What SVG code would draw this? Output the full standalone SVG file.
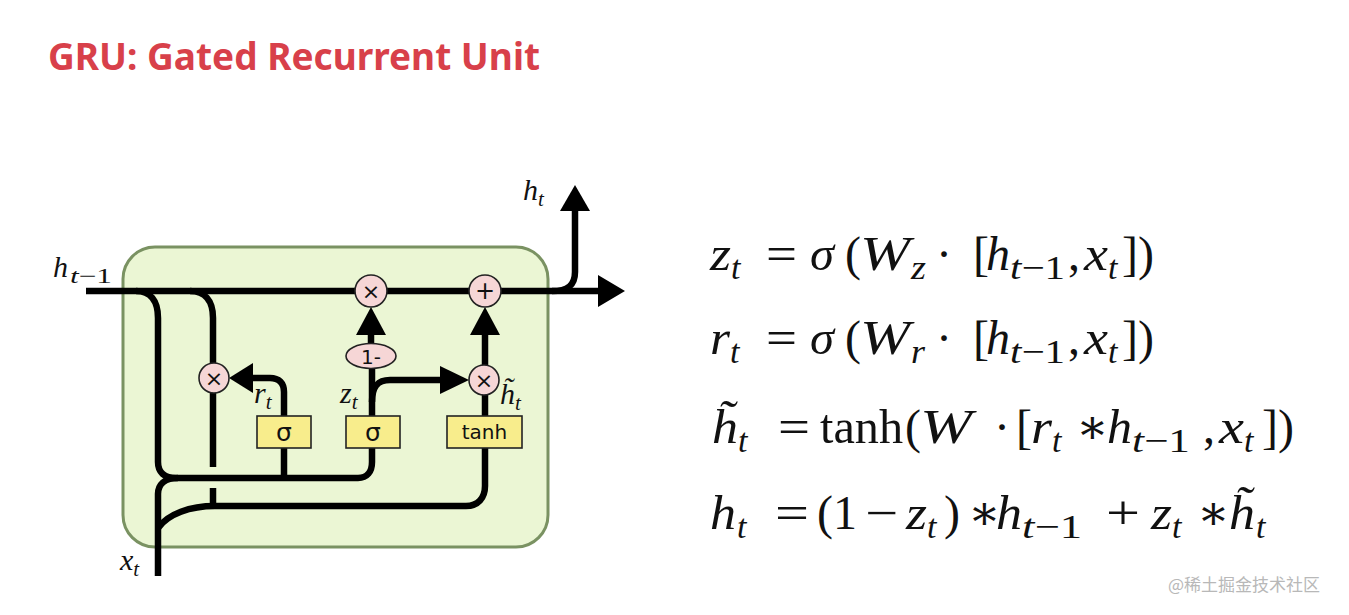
<svg xmlns="http://www.w3.org/2000/svg" width="1349" height="615" viewBox="0 0 1349 615">
<defs>
<style>
.title{font-family:"Noto Sans","Open Sans","Liberation Sans",sans-serif;font-weight:bold;font-size:38px;fill:#d8404a}
.wm{font-family:"Noto Sans CJK SC","Noto Sans",sans-serif;font-size:17px;fill:#b8b8b8}
.wire{fill:none;stroke:#000;stroke-width:6.5;stroke-linecap:butt}
.head{fill:#000}
.op{fill:#f6d6d6;stroke:#222;stroke-width:1.6}
.gate{fill:#f8ed8c;stroke:#222;stroke-width:1.6}
.gt{font-family:"DejaVu Sans","Liberation Sans",sans-serif;fill:#111;text-anchor:middle}
.mi{font-family:"Liberation Serif","DejaVu Serif",serif;font-style:italic;fill:#111}
.mr{font-family:"Liberation Serif","DejaVu Serif",serif;font-style:normal;fill:#111}
.eq{font-size:48px}
.sub{font-size:34px}
.lab{font-size:30px}
.lsub{font-size:21px}
</style>
</defs>
<rect width="1349" height="615" fill="#fff"/>
<text class="title" x="48" y="70" textLength="492" lengthAdjust="spacingAndGlyphs">GRU: Gated Recurrent Unit</text>

<g id="cell">
<rect x="123" y="247" width="425" height="300" rx="32" fill="#ebf6d4" stroke="#7a9262" stroke-width="3"/>
</g>

<g id="connectors">
<path class="wire" d="M86 291 L600 291" stroke-width="7"/>
<polygon class="head" points="598,275 625,291 598,307"/>
<path class="wire" d="M552 291 C568 291 575 285 575 272 L575 209"/>
<polygon class="head" points="560,211 575,185 590,211"/>
<path class="wire" d="M136 291 C150 291 158 300 158 318 L158 462 C158 472 164 478 176 478 L358 478 C367 478 372 472 372 462 L372 448"/>
<path class="wire" d="M190 291 C204 291 213 300 213 318 L213 364"/>
<path class="wire" d="M213 392 L213 467"/>
<path class="wire" d="M213 488 L213 506"/>
<path class="wire" d="M284 478 L284 392 C284 383 279 378 270 378 L251 378"/>
<polygon class="head" points="253,363 229,378 253,393"/>
<path class="wire" d="M158 576 L158 494 C158 485 164 478 178 478"/>
<path class="wire" d="M158 528 C168 514 190 506 215 506 L466 506 C478 506 485 498 485 486 L485 448"/>
<path class="wire" d="M372 416 L372 368"/>
<path class="wire" d="M371 344 L371 333"/>
<polygon class="head" points="356,335 371,307 386,335"/>
<path class="wire" d="M372 402 C372 387 377 380 390 380 L442 380"/>
<polygon class="head" points="440,366 469,380 440,394"/>
<path class="wire" d="M485 416 L485 394"/>
<path class="wire" d="M485 366 L485 333"/>
<polygon class="head" points="470,335 485,307 500,335"/>
</g>

<g id="mult-h">
<circle class="op" cx="371" cy="291" r="16"/>
<text class="gt" x="371" y="299" font-size="22">×</text>
</g>
<g id="plus">
<circle class="op" cx="485" cy="291" r="16"/>
<text class="gt" x="485" y="299" font-size="24">+</text>
</g>
<g id="mult-r">
<circle class="op" cx="214" cy="378" r="15"/>
<text class="gt" x="214" y="386" font-size="22">×</text>
</g>
<g id="mult-z">
<circle class="op" cx="484" cy="380" r="15"/>
<text class="gt" x="484" y="388" font-size="22">×</text>
</g>
<g id="one-minus">
<ellipse class="op" cx="371" cy="356" rx="25" ry="12.5"/>
<text class="gt" x="371" y="364" font-size="20">1-</text>
</g>
<g id="sigma-r">
<rect class="gate" x="257" y="416" width="54" height="32"/>
<text class="gt" x="284" y="441" font-size="25">σ</text>
</g>
<g id="sigma-z">
<rect class="gate" x="346" y="416" width="54" height="32"/>
<text class="gt" x="373" y="441" font-size="25">σ</text>
</g>
<g id="tanh">
<rect class="gate" x="447" y="416" width="75" height="32"/>
<text class="gt" x="484.5" y="439" font-size="20">tanh</text>
</g>

<g id="labels">
<text class="mi lab" x="523" y="200">h<tspan class="lsub" dy="6">t</tspan></text>
<text class="mi lab" x="53" y="277">h<tspan class="lsub" x="70" dy="6" textLength="42" lengthAdjust="spacingAndGlyphs">t<tspan class="mr">−1</tspan></tspan></text>
<text class="mi lab" x="254" y="403">r<tspan class="lsub" dy="6">t</tspan></text>
<text class="mi lab" x="340" y="403">z<tspan class="lsub" dy="6">t</tspan></text>
<text class="mi lab" x="500" y="404">h̃<tspan class="lsub" dy="6">t</tspan></text>
<text class="mi lab" x="120" y="570">x<tspan class="lsub" dy="6">t</tspan></text>
</g>

<g id="equations">
<text class="mi eq" y="270"><tspan x="710" textLength="21" lengthAdjust="spacingAndGlyphs">z</tspan><tspan class="sub" x="731" y="279">t</tspan><tspan class="mr" x="766" y="270" textLength="31" lengthAdjust="spacingAndGlyphs">=</tspan><tspan x="810" textLength="24" lengthAdjust="spacingAndGlyphs">σ</tspan><tspan class="mr" x="845">(</tspan><tspan x="860" textLength="50" lengthAdjust="spacingAndGlyphs">W</tspan><tspan class="sub" x="911" y="279" textLength="15" lengthAdjust="spacingAndGlyphs">z</tspan><tspan class="mr" x="936" y="270">·</tspan><tspan class="mr" x="973">[</tspan><tspan x="986" textLength="24" lengthAdjust="spacingAndGlyphs">h</tspan><tspan class="sub" x="1010" y="279" textLength="55" lengthAdjust="spacingAndGlyphs">t<tspan class="mr">−1</tspan></tspan><tspan class="mr" x="1068" y="270">,</tspan><tspan x="1084" textLength="24" lengthAdjust="spacingAndGlyphs">x</tspan><tspan class="sub" x="1108" y="279">t</tspan><tspan class="mr" x="1122" y="270">])</tspan></text>

<text class="mi eq" y="354"><tspan x="710" textLength="20" lengthAdjust="spacingAndGlyphs">r</tspan><tspan class="sub" x="730" y="363">t</tspan><tspan class="mr" x="766" y="354" textLength="31" lengthAdjust="spacingAndGlyphs">=</tspan><tspan x="810" textLength="24" lengthAdjust="spacingAndGlyphs">σ</tspan><tspan class="mr" x="845">(</tspan><tspan x="860" textLength="50" lengthAdjust="spacingAndGlyphs">W</tspan><tspan class="sub" x="911" y="363" textLength="14" lengthAdjust="spacingAndGlyphs">r</tspan><tspan class="mr" x="936" y="354">·</tspan><tspan class="mr" x="973">[</tspan><tspan x="986" textLength="24" lengthAdjust="spacingAndGlyphs">h</tspan><tspan class="sub" x="1010" y="363" textLength="55" lengthAdjust="spacingAndGlyphs">t<tspan class="mr">−1</tspan></tspan><tspan class="mr" x="1068" y="354">,</tspan><tspan x="1084" textLength="24" lengthAdjust="spacingAndGlyphs">x</tspan><tspan class="sub" x="1108" y="363">t</tspan><tspan class="mr" x="1122" y="354">])</tspan></text>

<text class="mi eq" y="443"><tspan x="712" textLength="26" lengthAdjust="spacingAndGlyphs">h̃</tspan><tspan class="sub" x="738" y="452">t</tspan><tspan class="mr" x="778" y="443" textLength="32" lengthAdjust="spacingAndGlyphs">=</tspan><tspan class="mr" x="820" textLength="83" lengthAdjust="spacingAndGlyphs">tanh</tspan><tspan class="mr" x="905">(</tspan><tspan x="920" textLength="52" lengthAdjust="spacingAndGlyphs">W</tspan><tspan class="mr" x="994">·</tspan><tspan class="mr" x="1016">[</tspan><tspan x="1031" textLength="21" lengthAdjust="spacingAndGlyphs">r</tspan><tspan class="sub" x="1052" y="452">t</tspan><tspan class="mr" x="1076" y="443">∗</tspan><tspan x="1107" textLength="25" lengthAdjust="spacingAndGlyphs">h</tspan><tspan class="sub" x="1132" y="452" textLength="58" lengthAdjust="spacingAndGlyphs">t<tspan class="mr">−1</tspan></tspan><tspan class="mr" x="1203" y="443">,</tspan><tspan x="1219" textLength="25" lengthAdjust="spacingAndGlyphs">x</tspan><tspan class="sub" x="1244" y="452">t</tspan><tspan class="mr" x="1262" y="443">])</tspan></text>

<text class="mi eq" y="529"><tspan x="710" textLength="26" lengthAdjust="spacingAndGlyphs">h</tspan><tspan class="sub" x="737" y="538">t</tspan><tspan class="mr" x="775" y="529" textLength="34" lengthAdjust="spacingAndGlyphs">=</tspan><tspan class="mr" x="817">(1</tspan><tspan class="mr" x="865" textLength="33" lengthAdjust="spacingAndGlyphs">−</tspan><tspan x="906" textLength="21" lengthAdjust="spacingAndGlyphs">z</tspan><tspan class="sub" x="927" y="538">t</tspan><tspan class="mr" x="944" y="529">)</tspan><tspan class="mr" x="968">∗</tspan><tspan x="996" textLength="26" lengthAdjust="spacingAndGlyphs">h</tspan><tspan class="sub" x="1022" y="538" textLength="60" lengthAdjust="spacingAndGlyphs">t<tspan class="mr">−1</tspan></tspan><tspan class="mr" x="1106" y="529" textLength="34" lengthAdjust="spacingAndGlyphs">+</tspan><tspan x="1151" textLength="21" lengthAdjust="spacingAndGlyphs">z</tspan><tspan class="sub" x="1172" y="538">t</tspan><tspan class="mr" x="1197" y="529">∗</tspan><tspan x="1229" textLength="26" lengthAdjust="spacingAndGlyphs">h̃</tspan><tspan class="sub" x="1256" y="538">t</tspan></text>
</g>

<text class="wm" x="1168" y="591">@稀土掘金技术社区</text>
</svg>
